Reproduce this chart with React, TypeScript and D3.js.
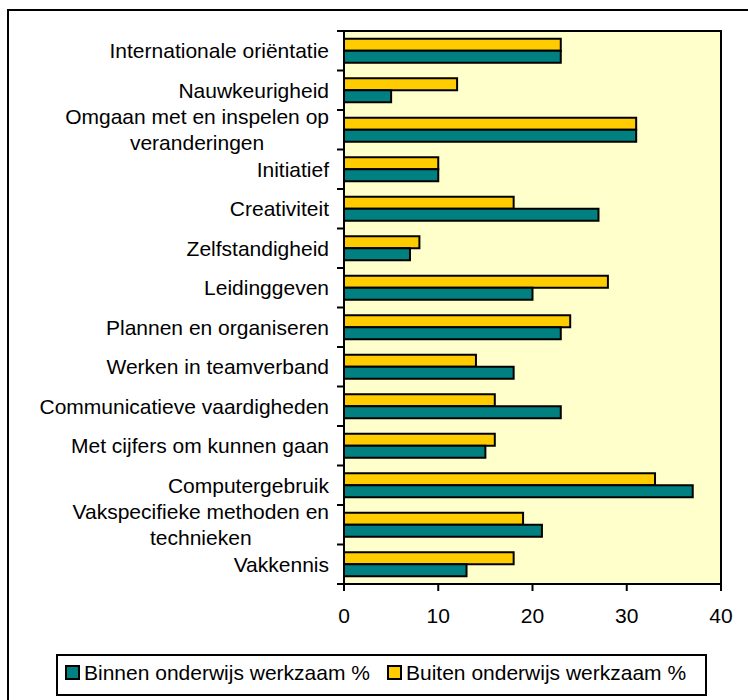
import * as d3 from "d3";
import { useEffect, useRef } from "react";

// categorieën van boven naar beneden
const categories = [
  "Internationale oriëntatie",
  "Nauwkeurigheid",
  "Omgaan met en inspelen op|veranderingen",
  "Initiatief",
  "Creativiteit",
  "Zelfstandigheid",
  "Leidinggeven",
  "Plannen en organiseren",
  "Werken in teamverband",
  "Communicatieve vaardigheden",
  "Met cijfers om kunnen gaan",
  "Computergebruik",
  "Vakspecifieke methoden en|technieken",
  "Vakkennis",
];

const binnen = [23, 5, 31, 10, 27, 7, 20, 23, 18, 23, 15, 37, 21, 13];
const buiten = [23, 12, 31, 10, 18, 8, 28, 24, 14, 16, 16, 33, 19, 18];

const xTicks = [0, 10, 20, 30, 40];
const seriesNames = ["Binnen onderwijs werkzaam %", "Buiten onderwijs werkzaam %"];

const W = 748;
const H = 700;

const App = () => {
  const ref = useRef<SVGSVGElement>(null);

  useEffect(() => {
    const svg = d3.select(ref.current);
    svg.selectAll("*").remove();

    const font = "Arial, 'Liberation Sans', sans-serif";
    const fs = "21px";
    const plot = { left: 344, top: 31, right: 721, bottom: 584 };

    // buitenrand
    svg.append("rect")
      .attr("x", 8).attr("y", 10)
      .attr("width", 760).attr("height", 720)
      .attr("fill", "white").attr("stroke", "black").attr("stroke-width", 2);

    const x = d3.scaleLinear().domain([0, 40]).range([plot.left, plot.right]);
    const y = d3.scaleBand().domain(categories).range([plot.top, plot.bottom]);

    svg.append("rect")
      .attr("x", plot.left).attr("y", plot.top)
      .attr("width", plot.right - plot.left).attr("height", plot.bottom - plot.top)
      .attr("fill", "#FFFFCC").attr("stroke", "black").attr("stroke-width", 2);

    const barH = 12;
    const g = svg.append("g");
    categories.forEach((c, i) => {
      const mid = y(c)! + y.bandwidth() / 2;
      g.append("rect")
        .attr("x", x(0)).attr("y", mid - barH)
        .attr("width", x(buiten[i]) - x(0)).attr("height", barH)
        .attr("fill", "#FFCC00").attr("stroke", "black").attr("stroke-width", 2);
      g.append("rect")
        .attr("x", x(0)).attr("y", mid)
        .attr("width", x(binnen[i]) - x(0)).attr("height", barH)
        .attr("fill", "#008080").attr("stroke", "black").attr("stroke-width", 2);
    });

    // y-as ticks op de bandgrenzen
    const bounds = categories.map(c => y(c)!).concat([plot.bottom]);
    svg.append("g").selectAll("line").data(bounds).enter().append("line")
      .attr("x1", plot.left - 7).attr("x2", plot.left)
      .attr("y1", d => d).attr("y2", d => d)
      .attr("stroke", "black").attr("stroke-width", 2);
    svg.append("line")
      .attr("x1", plot.left).attr("x2", plot.left)
      .attr("y1", plot.top).attr("y2", plot.bottom)
      .attr("stroke", "black").attr("stroke-width", 2);

    // labels
    categories.forEach(c => {
      const lines = c.split("|");
      const mid = y(c)! + y.bandwidth() / 2;
      if (lines.length === 1) {
        svg.append("text")
          .attr("x", 329).attr("y", mid).attr("dy", "0.35em")
          .attr("text-anchor", "end")
          .style("font-family", font).style("font-size", fs)
          .text(lines[0]);
      } else {
        const t = svg.append("text")
          .style("font-family", font).style("font-size", fs);
        const first = t.append("tspan").attr("x", 0).attr("y", mid - 13).attr("dy", "0.35em").text(lines[0]);
        const w = (first.node() as SVGTSpanElement).getComputedTextLength();
        first.attr("x", 329 - w / 2).attr("text-anchor", "middle");
        t.append("tspan").attr("x", 329 - w / 2).attr("y", mid + 13).attr("dy", "0.35em")
          .attr("text-anchor", "middle").text(lines[1]);
      }
    });

    // x-as
    const xa = svg.append("g");
    xa.append("line")
      .attr("x1", plot.left).attr("x2", plot.right)
      .attr("y1", plot.bottom).attr("y2", plot.bottom)
      .attr("stroke", "black").attr("stroke-width", 2);
    xTicks.forEach(v => {
      xa.append("line")
        .attr("x1", x(v)).attr("x2", x(v))
        .attr("y1", plot.bottom).attr("y2", plot.bottom + 7)
        .attr("stroke", "black").attr("stroke-width", 2);
      xa.append("text")
        .attr("x", x(v)).attr("y", 616).attr("dy", "0.35em")
        .attr("text-anchor", "middle")
        .style("font-family", font).style("font-size", fs)
        .text(v);
    });

    // legenda
    const lg = svg.append("g");
    lg.append("rect")
      .attr("x", 57).attr("y", 655).attr("width", 649).attr("height", 40)
      .attr("fill", "white").attr("stroke", "black").attr("stroke-width", 2);
    const items = [
      { name: seriesNames[0], color: "#008080", x: 66 },
      { name: seriesNames[1], color: "#FFCC00", x: 388 },
    ];
    items.forEach(it => {
      lg.append("rect")
        .attr("x", it.x).attr("y", 666).attr("width", 13).attr("height", 13)
        .attr("fill", it.color).attr("stroke", "black").attr("stroke-width", 2);
      lg.append("text")
        .attr("x", it.x + 18).attr("y", 673).attr("dy", "0.35em")
        .style("font-family", font).style("font-size", fs)
        .text(it.name);
    });
  }, []);

  return (
    <svg ref={ref} width={W} height={H}
      style={{ position: "absolute", left: 0, top: 0, background: "white" }} />
  );
};

export default App;
